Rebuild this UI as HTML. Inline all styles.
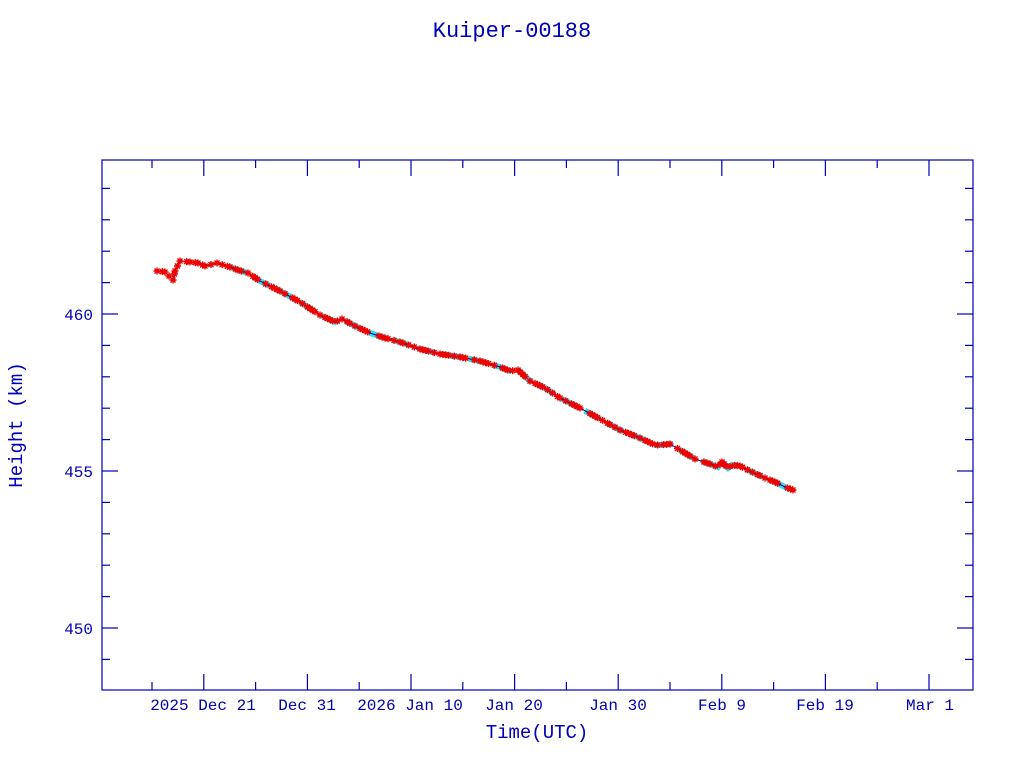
<!DOCTYPE html>
<html><head><meta charset="utf-8"><style>
body{margin:0;background:#fff;width:1024px;height:768px;overflow:hidden}
text{font-family:"Liberation Mono",monospace;fill:#0000b4}
</style></head><body>
<svg id="s" width="1024" height="768" xmlns="http://www.w3.org/2000/svg">
<text x="512" y="37" font-size="22" text-anchor="middle">Kuiper-00188</text>
<rect x="102" y="160" width="871" height="530" fill="none" stroke="#0000b4" stroke-width="1.2"/>
<g id="ticks" stroke="#0000b4" stroke-width="1.2"></g>
<g font-size="16" text-anchor="middle">
<text x="203" y="710">2025 Dec 21</text>
<text x="307" y="710">Dec 31</text>
<text x="410" y="710">2026 Jan 10</text>
<text x="514" y="710">Jan 20</text>
<text x="618" y="710">Jan 30</text>
<text x="722" y="710">Feb  9</text>
<text x="825" y="710">Feb 19</text>
<text x="930" y="710">Mar  1</text>
<text x="537" y="738" font-size="19">Time(UTC)</text>
</g>
<g font-size="16" text-anchor="end">
<text x="93" y="320">460</text>
<text x="93" y="477">455</text>
<text x="93" y="634">450</text>
</g>
<text transform="translate(22,425) rotate(-90)" font-size="19" text-anchor="middle">Height (km)</text>
<polyline id="cy" fill="none" stroke="#30e0f0" stroke-width="6" stroke-dasharray="18 8"/>
<polyline id="ln" fill="none" stroke="#000080" stroke-width="1"/>
<g id="mk" fill="none" stroke="#ee0000" stroke-width="1.4"></g>
</svg>
<script>
var t=document.getElementById("ticks"),h="";
for(var i=0;i<16;i++){var x=152+i*51.8;var L=(i%2)?16:8;
h+='<line x1="'+x+'" y1="690" x2="'+x+'" y2="'+(690-L)+'"/><line x1="'+x+'" y1="160" x2="'+x+'" y2="'+(160+L)+'"/>';}
for(var v=449;v<=464;v++){var y=314-(v-460)*31.4;var L=(v%5==0)?16:8;
h+='<line x1="102" y1="'+y+'" x2="'+(102+L)+'" y2="'+y+'"/><line x1="973" y1="'+y+'" x2="'+(973-L)+'" y2="'+y+'"/>';}
t.innerHTML=h;
var P=[[157,271],[165,272],[173,280],[175,271],[180,261],[190,262],[198,263],[205,266],[217,263],[230,267],[238,270],[248,273],[260,281],[280,291],[300,302],[320,315],[335,322],[342,319],[355,326],[370,333],[385,338],[400,342],[420,349],[440,354],[460,357],[480,361],[500,367],[510,371],[518,370],[530,381],[545,388],[560,398],[580,408],[600,419],[620,430],[640,438],[655,445],[660,445],[670,444],[680,450],[695,459],[710,464],[718,467],[722,462],[728,468],[732,465],[740,466],[750,471],[765,478],[775,482],[785,487],[793,490]];
document.getElementById("cy").setAttribute("points",P.slice(9).map(function(p){return p.join(",")}).join(" "));
document.getElementById("ln").setAttribute("points",P.map(function(p){return p.join(",")}).join(" "));
var m="";
function star(x,y){m+='<path d="M'+(x-3.5)+' '+y+'h7M'+x+' '+(y-3.5)+'v7M'+(x-2.5)+' '+(y-2.5)+'l5 5M'+(x-2.5)+' '+(y+2.5)+'l5 -5"/>';}
var cnt=0;
for(var i=0;i<P.length-1;i++){var a=P[i],b=P[i+1];var d=Math.hypot(b[0]-a[0],b[1]-a[1]);var n=Math.max(1,Math.round(d/3));
for(var k=0;k<n;k++){cnt++;if(i>=10&&(cnt%7==3||cnt%7==5||cnt%11==0))continue;if(i<10&&k>0&&k%2)continue;star(a[0]+(b[0]-a[0])*k/n,a[1]+(b[1]-a[1])*k/n);}}
star(793,490);
document.getElementById("mk").innerHTML=m;
</script>
</body></html>
